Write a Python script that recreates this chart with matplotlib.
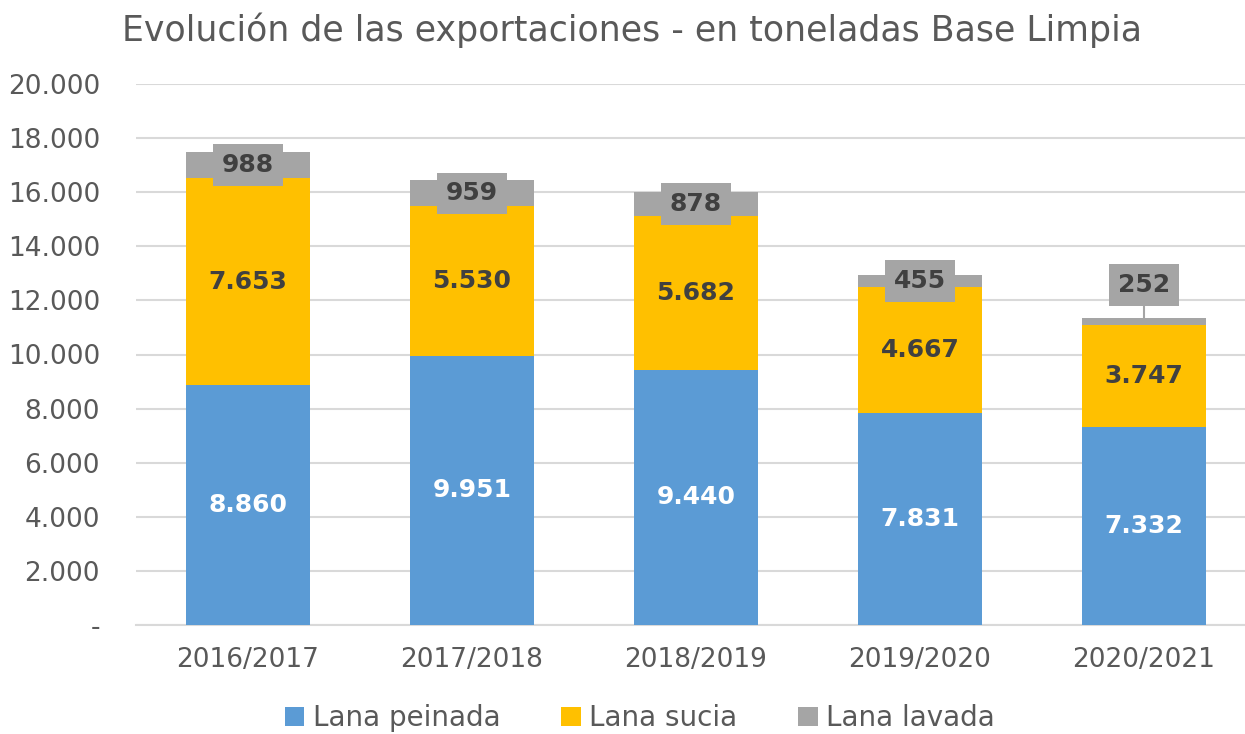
import numpy as np
import matplotlib.pyplot as plt
from matplotlib.ticker import FuncFormatter

plt.rcParams['font.family'] = ['DejaVu Sans']

campaigns = ['2016/2017', '2017/2018', '2018/2019', '2019/2020', '2020/2021']
peinada = [8860, 9951, 9440, 7831, 7332]
sucia = [7653, 5530, 5682, 4667, 3747]
lavada = [988, 959, 878, 455, 252]

blue = '#5B9BD5'
yellow = '#FFC000'
gray = '#A5A5A5'
txt = '#595959'
dark = '#404040'


def fmt(v):
    return f'{v:,.0f}'.replace(',', '.')


fig = plt.figure(figsize=(12.45, 7.34), dpi=100)
ax = fig.add_axes([136 / 1245, 109 / 734, 1120 / 1245, 541 / 734])

x = np.arange(len(campaigns))
w = 0.55
peinada = np.array(peinada)
sucia = np.array(sucia)
lavada = np.array(lavada)

ax.bar(x, peinada, w, color=blue, label='Lana peinada', zorder=3)
ax.bar(x, sucia, w, bottom=peinada, color=yellow, label='Lana sucia', zorder=3)
ax.bar(x, lavada, w, bottom=peinada + sucia, color=gray, label='Lana lavada', zorder=3)

for i in range(len(campaigns)):
    ax.text(x[i], peinada[i] / 2, fmt(peinada[i]), ha='center', va='center',
            color='white', fontsize=18, fontweight='bold', zorder=5)
    ax.text(x[i], peinada[i] + sucia[i] / 2, fmt(sucia[i]), ha='center', va='center',
            color=dark, fontsize=18, fontweight='bold', zorder=5)
    top = peinada[i] + sucia[i] + lavada[i]
    ylab = top - lavada[i] / 2
    if i == len(campaigns) - 1:
        # label moved up with a leader line
        ylab = top + 1240
        ax.plot([x[i], x[i]], [top, ylab - 500], color=gray, lw=1.5, zorder=4)
    ax.text(x[i], ylab, fmt(lavada[i]), ha='center', va='center',
            color=dark, fontsize=18, fontweight='bold', zorder=6,
            bbox=dict(boxstyle='square,pad=0.35', fc=gray, ec='none'))

ax.set_ylim(0, 20000)
ax.set_xlim(-0.5, len(campaigns) - 0.5)
ax.set_yticks(np.arange(0, 20001, 2000))
ax.yaxis.set_major_formatter(FuncFormatter(lambda v, p: '-' if v == 0 else fmt(v)))
ax.set_xticks(x)
ax.set_xticklabels(campaigns)
ax.tick_params(axis='both', length=0, labelsize=19, colors=txt)
ax.tick_params(axis='y', pad=26)
ax.tick_params(axis='x', pad=16)
ax.grid(axis='y', color='#D9D9D9', lw=1.5, zorder=0)
for s in ['top', 'right', 'left']:
    ax.spines[s].set_visible(False)
ax.spines['bottom'].set_color('#D9D9D9')
ax.spines['bottom'].set_linewidth(1.5)

fig.text(632 / 1245, 1 - 30 / 734, 'Evolución de las exportaciones - en toneladas Base Limpia',
         ha='center', va='center', fontsize=25, color=txt)

fig.legend(loc='center', bbox_to_anchor=(640 / 1245, 1 - 718 / 734), ncol=3, frameon=False,
           fontsize=20, labelcolor=txt, handlelength=0.7, handleheight=0.7,
           handletextpad=0.3, columnspacing=2.2)

fig.savefig('out.png', dpi=100)
